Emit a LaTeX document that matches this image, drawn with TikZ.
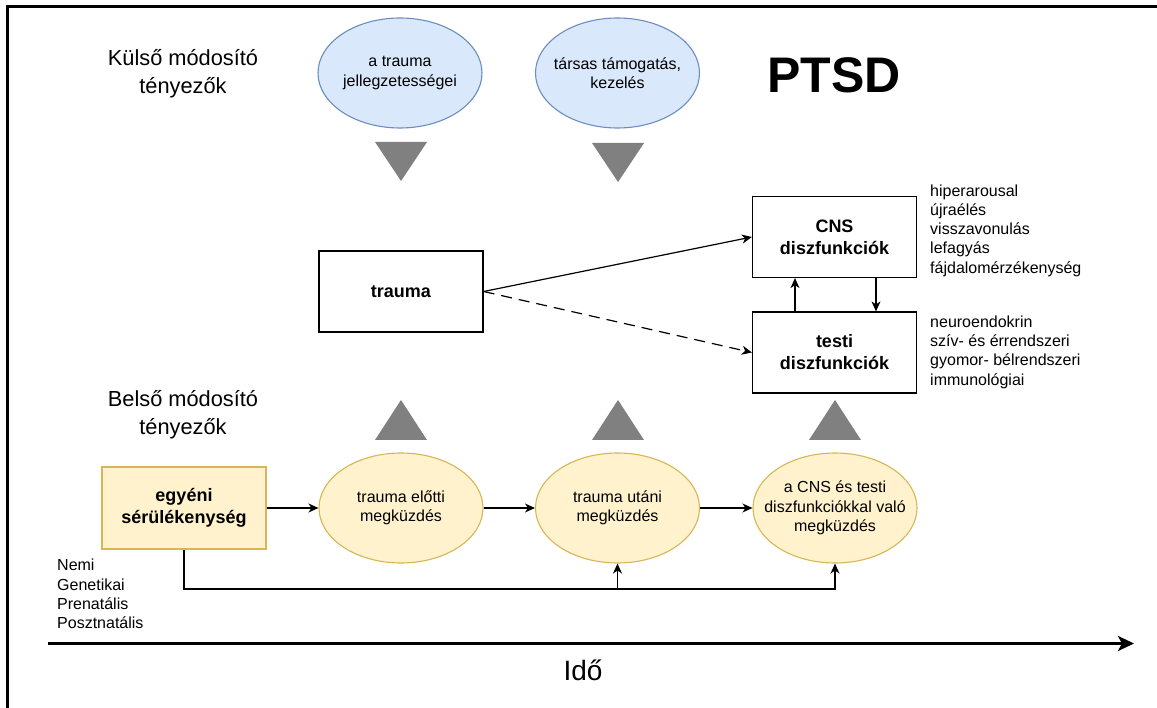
\documentclass[tikz,border=0pt]{standalone}
\usepackage{fontspec}
\setmainfont{Liberation Sans}
\usetikzlibrary{arrows.meta,shapes.geometric,calc}
\definecolor{blueFill}{HTML}{DAE8FC}
\definecolor{blueLine}{HTML}{6C8EBF}
\definecolor{yelFill}{HTML}{FFF2CC}
\definecolor{yelLine}{HTML}{D6B656}
\definecolor{triGray}{HTML}{808080}
\tikzset{
  txt/.style={font=\fontsize{16}{19.5}\selectfont, align=center, inner sep=0pt},
  listtxt/.style={font=\fontsize{16}{19.3}\selectfont, align=left, inner sep=0pt, anchor=west},
  bigtxt/.style={font=\fontsize{21.8}{28}\selectfont, align=center, inner sep=0pt},
  boxnode/.style={draw, line width=1.2pt, minimum width=164pt, minimum height=81pt,
    inner sep=0pt, align=center, font=\bfseries\fontsize{18}{22}\selectfont},
  ellnode/.style={ellipse, line width=1.1pt, minimum width=164pt, minimum height=110pt, inner sep=0pt},
  blueell/.style={ellnode, draw=blueLine, fill=blueFill},
  yelell/.style={ellnode, draw=yelLine, fill=yelFill},
  arr/.style={line width=1.2pt, -{Stealth[length=10pt,width=9pt,inset=3pt]}},
  tri/.style={fill=triGray},
}
\begin{document}
\begin{tikzpicture}[x=1pt,y=-1pt]
\useasboundingbox (0,0) rectangle (1157,708);
% outer frame (top and left edges)
\draw[line width=3pt] (1157,6.5) -- (7.5,6.5) -- (7.5,708);

% headings
\node[bigtxt] (kulso) at (183,74) {Külső módosító\\tényezők};
\node[bigtxt] (belso) at (183,415) {Belső módosító\\tényezők};
\node[font=\bfseries\fontsize{50}{56}\selectfont, inner sep=0pt] (ptsd) at (834,75) {PTSD};

% external modifiers
\node[blueell, label={[txt]center:{a trauma\\jellegzetességei}}] (jell) at (400,73) {};
\node[blueell, label={[txt]center:{társas támogatás,\\kezelés}}] (tars) at (617.5,73) {};
\fill[tri] (375,142) -- (427,142) -- (401,181) -- cycle;
\fill[tri] (592,143) -- (644,143) -- (618,182) -- cycle;

% trauma and dysfunction boxes
\node[boxnode] (trauma) at (401,291.5) {trauma};
\node[boxnode] (cns) at (834.5,237) {CNS\\diszfunkciók};
\node[boxnode] (testi) at (834.5,352.5) {testi\\diszfunkciók};

\draw[arr] (trauma.east) -- (cns.west);
\draw[arr, dash pattern=on 11pt off 7pt] (trauma.east) -- (testi.west);
\draw[arr] (testi.north -| 795,0) -- (cns.south -| 795,0);
\draw[arr] (cns.south -| 876,0) -- (testi.north -| 876,0);

\node[listtxt] (cnslist) at (930,230.5) {hiperarousal\\újraélés\\visszavonulás\\lefagyás\\fájdalomérzékenység};
\node[listtxt] (testilist) at (930,352) {neuroendokrin\\szív- és érrendszeri\\gyomor- bélrendszeri\\immunológiai};

% internal modifiers
\fill[tri] (375,440) -- (427,440) -- (401,400) -- cycle;
\fill[tri] (592,440) -- (644,440) -- (618,400) -- cycle;
\fill[tri] (809,440) -- (861,440) -- (835,400) -- cycle;

\node[boxnode, draw=yelLine, fill=yelFill, minimum height=82pt] (egy) at (184,508) {egyéni\\sérülékenység};
\node[yelell, label={[txt]center:{trauma előtti\\megküzdés}}] (elotti) at (401,508) {};
\node[yelell, label={[txt]center:{trauma utáni\\megküzdés}}] (utani) at (617.5,508) {};
\node[yelell, label={[txt]center:{a CNS és testi\\diszfunkciókkal való\\megküzdés}}] (cnsmeg) at (835,508) {};

\draw[arr] (egy.east) -- (elotti.west);
\draw[arr] (elotti.east) -- (utani.west);
\draw[arr] (utani.east) -- (cnsmeg.west);

\coordinate (fb) at (184,589);
\draw[arr] (egy.south) |- (cnsmeg.south |- fb) -- (cnsmeg.south);
\draw[arr] (utani.south |- fb) -- (utani.south);

\node[listtxt] (factors) at (57,594) {Nemi\\Genetikai\\Prenatális\\Posztnatális};

% time axis
\coordinate (tstart) at (48,643.5);
\coordinate (tend) at (1134,643.5);
\draw[line width=3pt, -{Stealth[length=16pt,width=15pt,inset=4pt]}] (tstart) -- (tend);
\node[font=\fontsize{28}{32}\selectfont, inner sep=0pt] (ido) at (583,670) {Idő};
\end{tikzpicture}
\end{document}
